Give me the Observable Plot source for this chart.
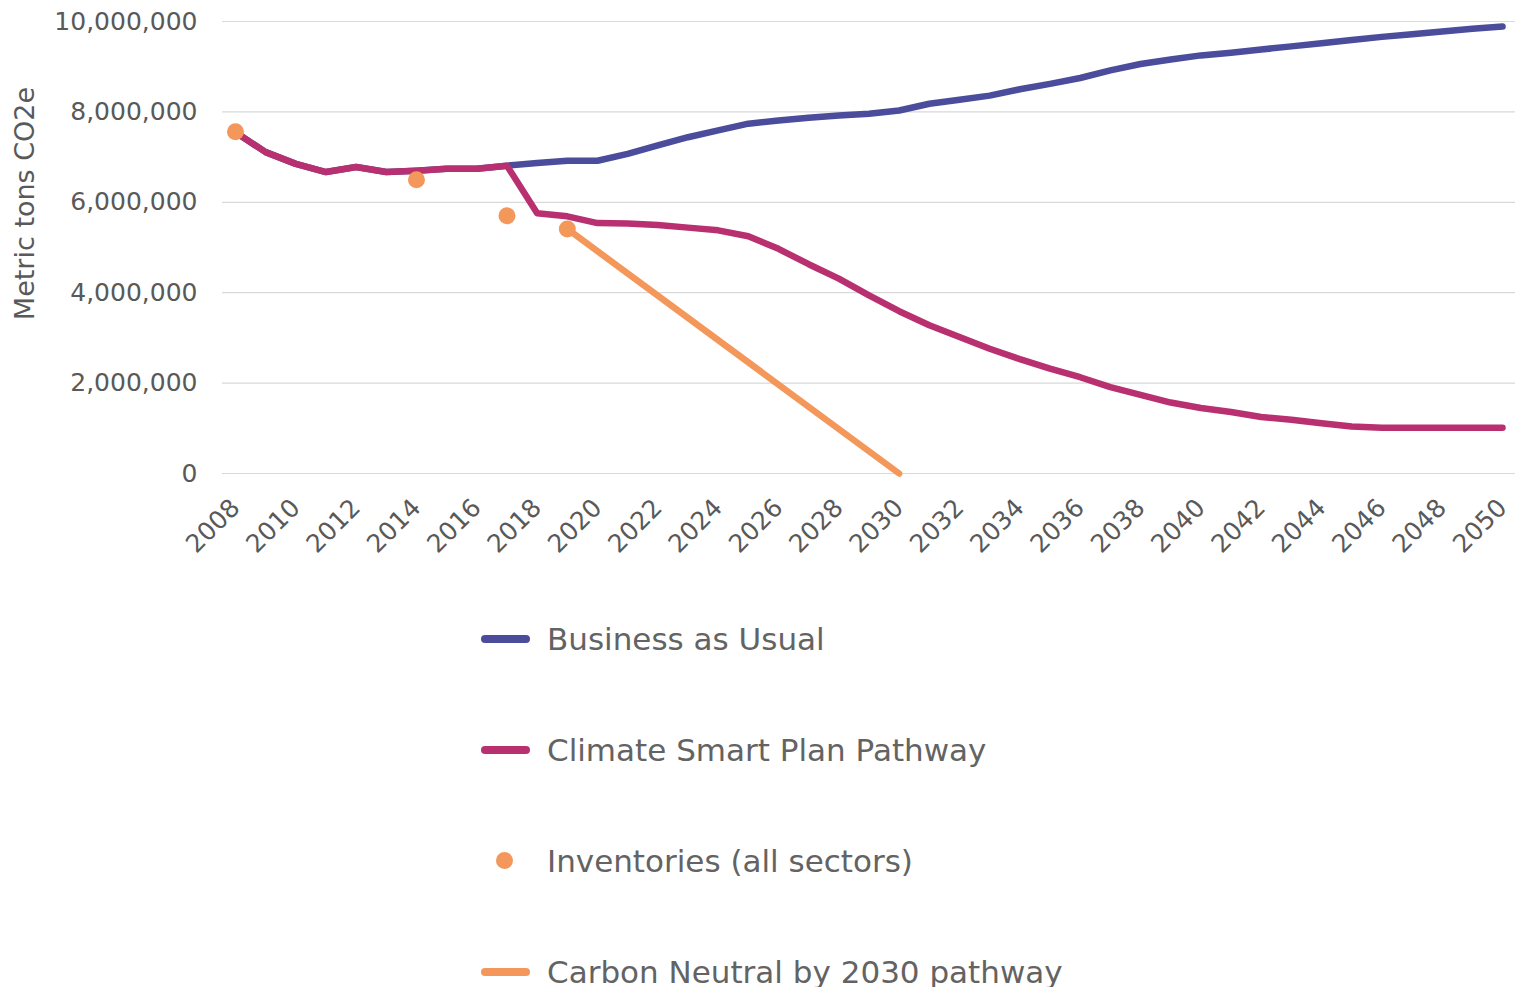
<!DOCTYPE html>
<html>
<head>
<meta charset="utf-8">
<script src="https://cdn.jsdelivr.net/npm/d3@7"></script>
<script src="https://cdn.jsdelivr.net/npm/@observablehq/plot@0.6"></script>
<style>
  html, body { margin: 0; padding: 0; background: #fff; }
  body { width: 1519px; height: 987px; overflow: hidden; position: relative; font-family: "DejaVu Sans", sans-serif; }
  #legend { position: absolute; left: 481px; top: 583px; }
  .row { height: 111px; display: flex; align-items: center; font-size: 31px; color: #636363; }
  .sw { width: 49px; height: 8px; border-radius: 4px; margin-right: 17px; }
  .dot { width: 17px; height: 17px; border-radius: 50%; margin-left: 15px; margin-right: 34px; }
</style>
</head>
<body>
<div id="chart"></div>
<div id="legend"></div>
<script>
const years = [2008,2009,2010,2011,2012,2013,2014,2015,2016,2017,2018,2019,2020,2021,2022,2023,2024,2025,2026,2027,2028,2029,2030,2031,2032,2033,2034,2035,2036,2037,2038,2039,2040,2041,2042,2043,2044,2045,2046,2047,2048,2049,2050];
const businessAsUsual = [7.55,7.11,6.85,6.67,6.78,6.67,6.70,6.74,6.74,6.81,6.87,6.92,6.92,7.07,7.26,7.44,7.59,7.74,7.81,7.87,7.92,7.96,8.03,8.18,8.27,8.36,8.50,8.62,8.75,8.92,9.06,9.16,9.25,9.31,9.38,9.45,9.52,9.59,9.66,9.72,9.78,9.84,9.89];
const climateSmart = [7.55,7.11,6.85,6.67,6.78,6.67,6.70,6.74,6.74,6.81,5.76,5.69,5.54,5.53,5.50,5.44,5.38,5.25,4.97,4.63,4.31,3.94,3.59,3.28,3.02,2.76,2.53,2.32,2.13,1.91,1.74,1.57,1.45,1.36,1.25,1.19,1.11,1.04,1.01,1.01,1.01,1.01,1.01];
const inventoryYears = [2008, 2014, 2017, 2019];
const inventoryValues = [7.56, 6.50, 5.70, 5.41];
const neutralYears = [2019, 2030];
const neutralValues = [5.41, 0];
const yTicks = [0, 2000000, 4000000, 6000000, 8000000, 10000000];
const xTicks = [2008,2010,2012,2014,2016,2018,2020,2022,2024,2026,2028,2030,2032,2034,2036,2038,2040,2042,2044,2046,2048,2050];
const seriesNames = ["Business as Usual", "Climate Smart Plan Pathway", "Inventories (all sectors)", "Carbon Neutral by 2030 pathway"];
const colors = ["#4B4C9C", "#B8306F", "#F4975A", "#F4975A"];

const M = 1e6;
const bau = years.map((y, i) => ({year: y, v: businessAsUsual[i] * M}));
const csp = years.map((y, i) => ({year: y, v: climateSmart[i] * M}));
const inv = inventoryYears.map((y, i) => ({year: y, v: inventoryValues[i] * M}));
const neu = neutralYears.map((y, i) => ({year: y, v: neutralValues[i] * M}));

const chart = Plot.plot({
  width: 1519,
  height: 570,
  marginLeft: 222,
  marginRight: 4,
  marginTop: 21,
  marginBottom: 97,
  style: {fontFamily: "DejaVu Sans, sans-serif", color: "#595959", background: "#fff"},
  x: {domain: [2007.57, 2050.43]},
  y: {domain: [0, 10000000]},
  marks: [
    Plot.gridY(yTicks, {stroke: "#d9d9d9", strokeOpacity: 1, strokeWidth: 1.2}),
    Plot.axisY(yTicks, {tickSize: 0, tickPadding: 25, tickFormat: d3.format(","), fontSize: 25, label: null}),
    Plot.axisX(xTicks, {tickSize: 0, tickPadding: 30, tickRotate: -45, tickFormat: d => String(d), fontSize: 25, label: null}),
    Plot.text(["Metric tons CO2e"], {frameAnchor: "left", rotate: -90, textAnchor: "middle", dx: -197, dy: -44, fontSize: 27, fill: "#595959"}),
    Plot.line(bau, {x: "year", y: "v", stroke: colors[0], strokeWidth: 6.5, strokeLinecap: "round", strokeLinejoin: "round"}),
    Plot.line(csp, {x: "year", y: "v", stroke: colors[1], strokeWidth: 6.5, strokeLinecap: "round", strokeLinejoin: "round"}),
    Plot.line(neu, {x: "year", y: "v", stroke: colors[3], strokeWidth: 6.5, strokeLinecap: "round"}),
    Plot.dot(inv, {x: "year", y: "v", r: 8.5, fill: colors[2], stroke: "none"})
  ]
});
document.getElementById("chart").appendChild(chart);

const legend = document.getElementById("legend");
seriesNames.forEach((name, i) => {
  const row = document.createElement("div");
  row.className = "row";
  const sw = document.createElement("div");
  sw.className = i === 2 ? "dot" : "sw";
  sw.style.background = colors[i];
  row.appendChild(sw);
  const t = document.createElement("span");
  t.textContent = name;
  row.appendChild(t);
  legend.appendChild(row);
});
</script>
</body>
</html>
